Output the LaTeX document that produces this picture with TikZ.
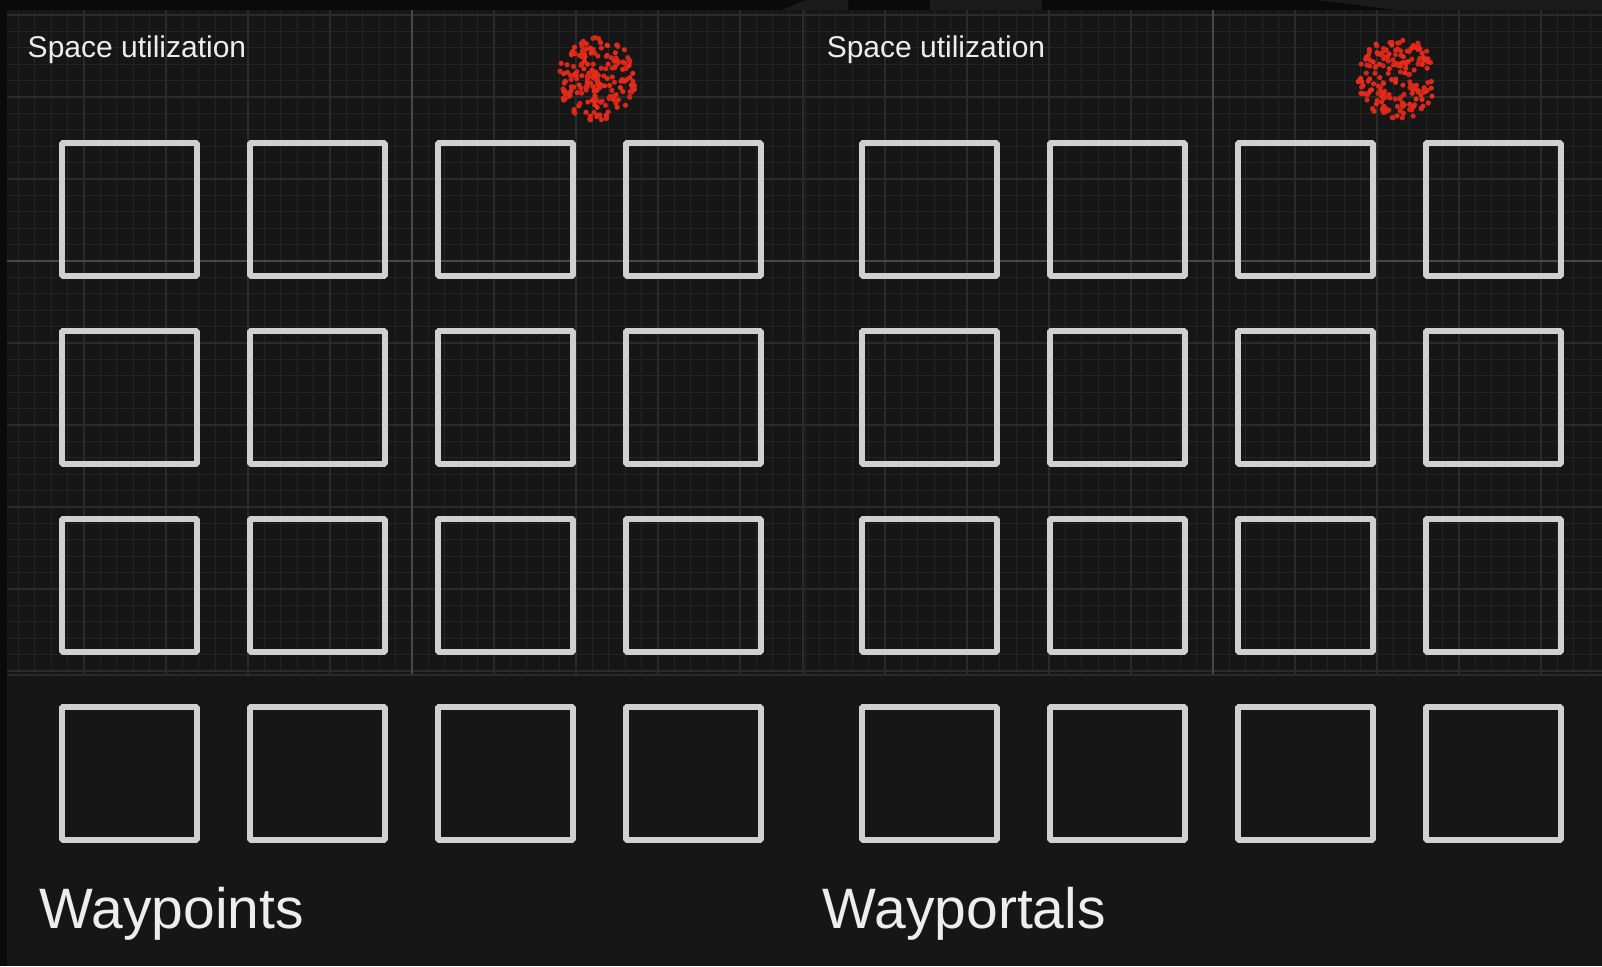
\documentclass[tikz,border=0pt]{standalone}
\usepackage{fontspec}
\setmainfont{Liberation Sans}

\definecolor{bgdark}{HTML}{161616}
\definecolor{topblack}{HTML}{0A0A0A}
\definecolor{bandgray}{HTML}{1B1B1B}
\definecolor{gridfine}{HTML}{242424}
\definecolor{gridmid}{HTML}{2B2B2B}
\definecolor{gridmajor}{HTML}{484848}
\definecolor{cellgray}{HTML}{D0D0D0}
\definecolor{dotred}{HTML}{EA2C1B}
\definecolor{dotdark}{HTML}{A01B12}
\definecolor{labelwhite}{HTML}{EDEDED}

\tikzset{every picture/.style={line width=0.75pt}}
\tikzset{
  finegrid/.style={draw=gridfine, line width=0.5pt},
  midgrid/.style={draw=gridmid, line width=0.6pt},
  majorgrid/.style={draw=gridmajor, line width=0.7pt},
  cellbox/.style={draw=cellgray, line width=2.9pt, line join=bevel},
  smalllabel/.style={anchor=base west, inner sep=0pt, text=labelwhite, font=\fontsize{15}{18}\selectfont},
  biglabel/.style={anchor=base west, inner sep=0pt, text=labelwhite, font=\fontsize{28.5}{34}\selectfont}
}

\begin{document}
\begin{tikzpicture}[x=0.5pt,y=0.5pt,yscale=-1,xscale=1]
\useasboundingbox (0,0) rectangle (1602,966);

%Shape: Rectangle [background]
\fill[bgdark] (0,0) rectangle (1602,966);
%Shape: Rectangle [top band]
\fill[topblack] (0,0) rectangle (1602,10);
\fill[bandgray] (782,10) -- (806,0) -- (848,0) -- (848,10) -- cycle;
\fill[bandgray] (930,0) rectangle (1042,10);
\fill[bandgray] (1313,0) .. controls (1345,3) and (1372,7) .. (1397,10) -- (1602,10) -- (1602,0) -- cycle;
%Shape: Rectangle [left strip]
\fill[topblack] (0,0) rectangle (7,966);

%Grid of both panels
\foreach \px/\cx in {7/412, 801/1213}{
  \begin{scope}
    \clip (\px,10) rectangle (\px+801,675);
    \foreach \k in {-25,...,25}
      \draw[finegrid] ({\cx+16.4*\k},10) -- ({\cx+16.4*\k},675);
    \foreach \k in {-16,...,26}
      \draw[finegrid] (\px,{261+16.4*\k}) -- (\px+801,{261+16.4*\k});
    \foreach \k in {-25,-20,...,25}
      \draw[midgrid] ({\cx+16.4*\k},10) -- ({\cx+16.4*\k},675);
    \foreach \k in {-15,-10,...,25}
      \draw[midgrid] (\px,{261+16.4*\k}) -- (\px+801,{261+16.4*\k});
    \draw[majorgrid] (\cx,10) -- (\cx,675);
    \draw[majorgrid] (\px,261) -- (\px+801,261);
  \end{scope}
}
%Straight Lines [grid edge]
\draw[midgrid] (7,675) -- (1602,675);

%Shape: Square [cells, 4 x 4 in each panel]
\foreach \off in {0,800}
  \foreach \col in {0,...,3}
    \foreach \row in {0,...,3}
      \draw[cellbox] ({62+\off+188*\col},{143+188*\row}) rectangle ++(135,133);

%Shape: Dots [crowd]
\pgfmathsetseed{23}
\foreach \cx/\cy in {597/79, 1397/78}
  \foreach \n in {1,...,190}{
    \pgfmathsetmacro\ang{360*rnd}
    \pgfmathsetmacro\rad{sqrt(rnd)}
    \pgfmathsetmacro\shade{int(65+35*rnd)}
    \fill[dotred!\shade!dotdark] ({\cx+39*\rad*cos(\ang)},{\cy+42*\rad*sin(\ang)}) circle (2.6);
  }

% Text Node
\draw (27,57) node [smalllabel] (spaceL) {Space utilization};
% Text Node
\draw (826,57) node [smalllabel] (spaceR) {Space utilization};
% Text Node
\draw (39,928) node [biglabel] (waypoints) {Waypoints};
% Text Node
\draw (822,928) node [biglabel] (wayportals) {Wayportals};

\end{tikzpicture}
\end{document}
